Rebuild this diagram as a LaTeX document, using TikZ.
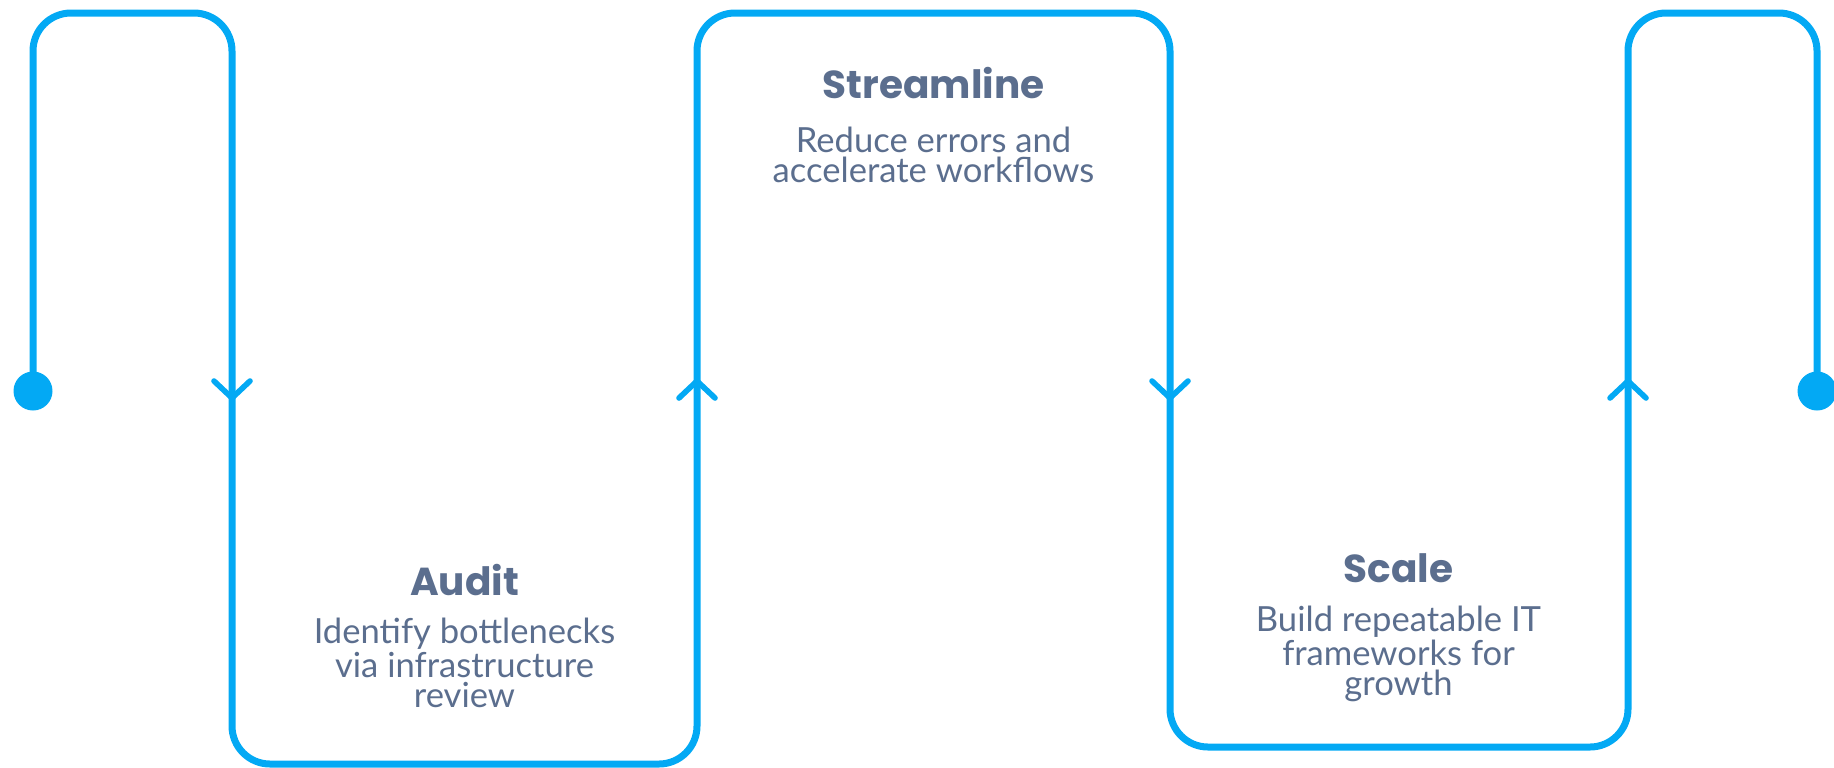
\documentclass[tikz,border=0pt]{standalone}
\usepackage{fontspec}
\setmainfont{Lato}
\newfontfamily\titlefont{Poppins}
\usepackage{tikz}
\definecolor{flowblue}{RGB}{3,169,244}
\definecolor{txtgray}{RGB}{91,110,142}
\tikzstyle{flow}=[draw=flowblue,line width=3.5pt,rounded corners=19pt]
\tikzstyle{chev}=[draw=flowblue,line width=2.8pt,line cap=round,line join=miter]
\tikzstyle{dot}=[circle,fill=flowblue,inner sep=0pt,minimum size=19.5pt]
\tikzstyle{title}=[text=txtgray,anchor=base,inner sep=0pt,font=\titlefont\bfseries\fontsize{19.5}{22}\selectfont]
\tikzstyle{body}=[text=txtgray,anchor=base,inner sep=0pt,align=center,font=\fontsize{17.3}{15}\selectfont]

\begin{document}
\begin{tikzpicture}[x=0.5pt,y=-0.5pt]
	\useasboundingbox (0,0) rectangle (1834,767);

	\node(dotL)[dot] at (33,391){};
	\node(dotR)[dot] at (1817,391){};

	\coordinate(p1) at (33,13);
	\coordinate(p2) at (232,13);
	\coordinate(p3) at (232,764);
	\coordinate(p4) at (697,764);
	\coordinate(p5) at (697,13);
	\coordinate(p6) at (1170,13);
	\coordinate(p7) at (1170,747);
	\coordinate(p8) at (1628,747);
	\coordinate(p9) at (1628,13);
	\coordinate(p10) at (1817,13);

	\path[flow] (dotL.center) -- (p1) -- (p2) -- (p3) -- (p4) -- (p5) -- (p6)
	            -- (p7) -- (p8) -- (p9) -- (p10) -- (dotR.center);

	\coordinate(a1) at (232,398);
	\coordinate(a2) at (697,381);
	\coordinate(a3) at (1170,398);
	\coordinate(a4) at (1628,381);
	\draw[chev] (a1) ++(-18,-17) -- (a1) -- ++(18,-17);
	\draw[chev] (a2) ++(-18,17) -- (a2) -- ++(18,17);
	\draw[chev] (a3) ++(-18,-17) -- (a3) -- ++(18,-17);
	\draw[chev] (a4) ++(-18,17) -- (a4) -- ++(18,17);

	% body base is the last line, so shift by the extra lines
	\node(audit)[title] at (464.5,595){Audit};
	\node(auditTxt)[body] at ([yshift=-56pt]audit.base){Identify bottlenecks\\via infrastructure\\review};
	\node(stream)[title] at (933.5,98){Streamline};
	\node(streamTxt)[body] at ([yshift=-42pt]stream.base){Reduce errors and\\accelerate workflows};
	\node(scale)[title] at (1398.5,582){Scale};
	\node(scaleTxt)[body] at ([yshift=-56.5pt]scale.base){Build repeatable IT\\frameworks for\\growth};
\end{tikzpicture}
\end{document}
